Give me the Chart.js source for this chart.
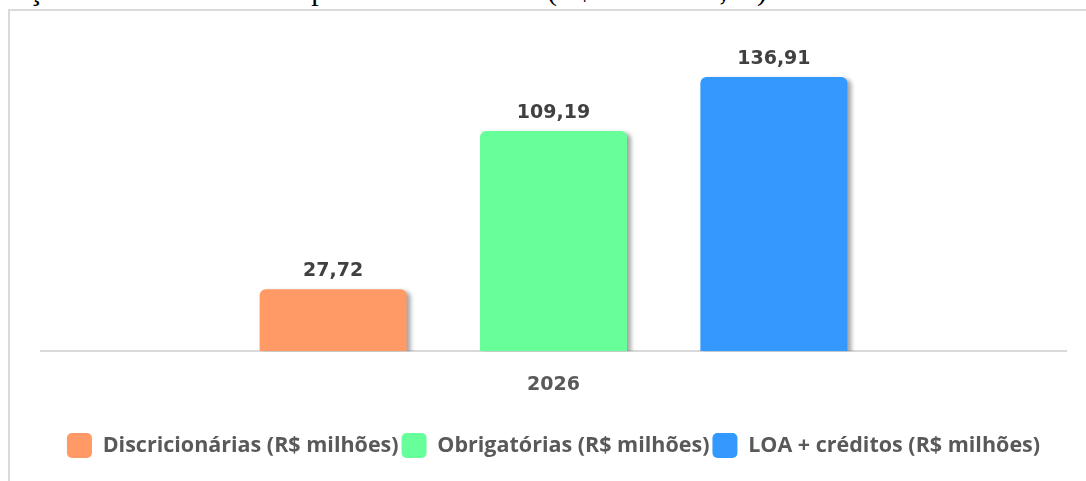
<!DOCTYPE html>
<html>
<head>
<meta charset="utf-8">
<script src="https://cdn.jsdelivr.net/npm/chart.js@4"></script>
<style>
  html, body { margin: 0; padding: 0; background: #fff; overflow: hidden; }
  body { width: 1086px; height: 481px; position: relative; }
  .caption {
    position: absolute; right: 319px; top: -25px; white-space: nowrap;
    font: 30px/30px "Liberation Serif", "DejaVu Serif", serif; color: #000;
  }
  .frame {
    position: absolute; left: 8px; top: 9px; width: 1100px; height: 500px;
    border: 2px solid #d9d9d9; box-sizing: border-box;
  }
  .wrap { position: absolute; left: 0; top: 0; width: 1086px; height: 481px; }
</style>
</head>
<body>
<div class="caption">orçamentária da UFDPar para o ano de 2026 (R$ 1.000.000,00)</div>
<div class="frame"></div>
<div class="wrap"><canvas id="chart"></canvas></div>
<script>
// dados do gráfico
const categorias = ['2026'];
const series = ['Discricionárias (R$ milhões)', 'Obrigatórias (R$ milhões)', 'LOA + créditos (R$ milhões)'];
const valores = [27.72, 109.19, 136.91];
const cores = ['#FF9966', '#66FF99', '#3399FF'];

const FONT_NUM = '"DejaVu Sans", sans-serif';
const FONT_LEG = '"Open Sans", sans-serif';
const fmt = v => v.toFixed(2).replace('.', ',');

// sombra à direita das barras
const sombra = {
  id: 'sombra',
  beforeDatasetsDraw(chart) {
    const ctx = chart.ctx;
    ctx.save();
    ctx.shadowColor = 'rgba(0,0,0,0.35)';
    ctx.shadowOffsetX = 4;
    ctx.shadowOffsetY = 2;
    ctx.shadowBlur = 4;
  },
  afterDatasetsDraw(chart) {
    chart.ctx.restore();
  }
};

// rótulos de valor acima das barras
const rotulos = {
  id: 'rotulos',
  afterDraw(chart) {
    const ctx = chart.ctx;
    ctx.save();
    ctx.font = 'bold 19px ' + FONT_NUM;
    ctx.fillStyle = '#404040';
    ctx.textAlign = 'center';
    ctx.textBaseline = 'middle';
    chart.data.datasets.forEach((ds, i) => {
      chart.getDatasetMeta(i).data.forEach((bar, j) => {
        ctx.fillText(fmt(ds.data[j]), bar.x, bar.y - 18);
      });
    });
    ctx.restore();
  }
};

const Y_MIN = -4.2;

new Chart(document.getElementById('chart'), {
  type: 'bar',
  data: {
    labels: categorias,
    datasets: series.map((nome, i) => ({
      label: nome,
      data: [valores[i]],
      backgroundColor: cores[i],
      borderWidth: 0,
      borderRadius: {topLeft: 6, topRight: 6, bottomLeft: 0, bottomRight: 0},
      borderSkipped: 'bottom',
      base: Y_MIN,
      categoryPercentage: 0.645,
      barPercentage: 0.667
    }))
  },
  options: {
    responsive: true,
    maintainAspectRatio: false,
    animation: false,
    layout: {padding: {top: 40, left: 41, right: 20, bottom: 13}},
    scales: {
      y: {
        display: false,
        min: Y_MIN,
        max: 156
      },
      x: {
        grid: {display: false, drawTicks: false},
        border: {color: '#d9d9d9', width: 2},
        ticks: {font: {size: 19, weight: 'bold', family: FONT_NUM}, color: '#595959', padding: 22},
        afterFit: s => { s.height += 12; }
      }
    },
    plugins: {
      legend: {
        position: 'bottom',
        labels: {
          font: {size: 21.5, weight: 'bold', family: FONT_LEG},
          color: '#595959',
          boxWidth: 25,
          boxHeight: 25,
          padding: 3,
          useBorderRadius: true,
          borderRadius: 5
        }
      },
      tooltip: {enabled: false}
    }
  },
  plugins: [sombra, rotulos]
});
</script>
</body>
</html>
